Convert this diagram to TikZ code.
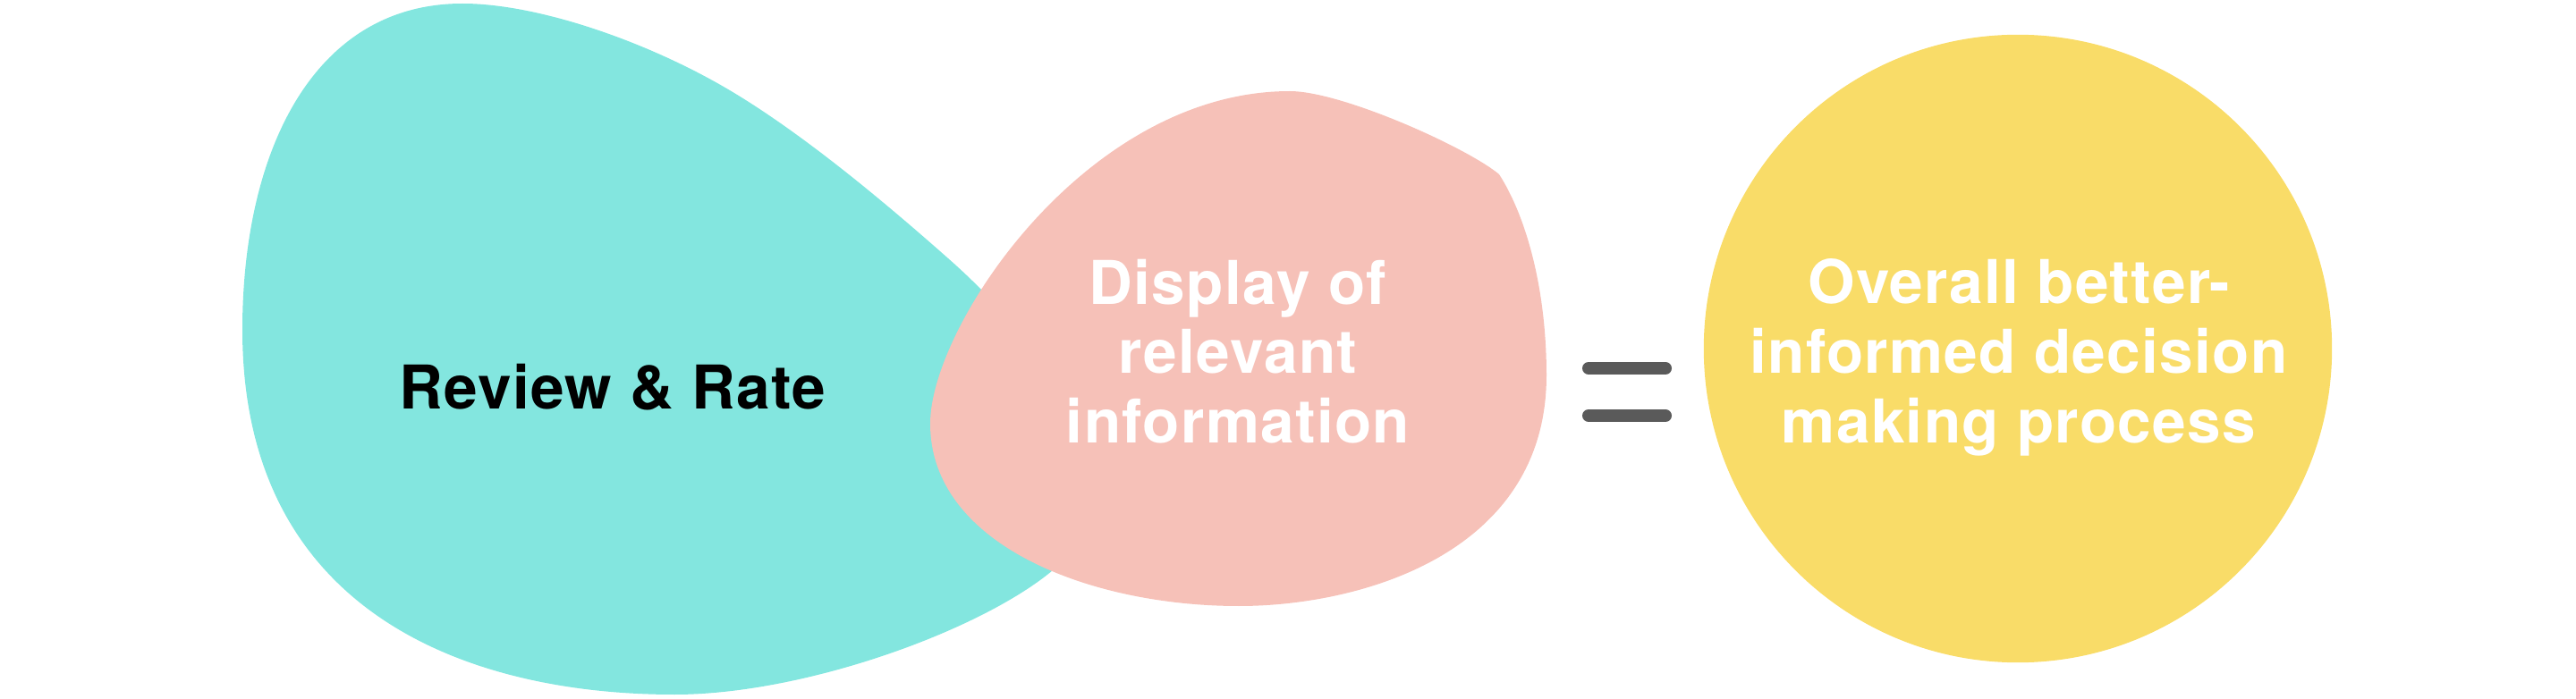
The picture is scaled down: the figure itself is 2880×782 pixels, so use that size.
\documentclass[tikz,border=0pt]{standalone}
\usepackage{fontspec}
\setmainfont{TeX Gyre Heros}[LetterSpace=2]
\definecolor{rateteal}{RGB}{131, 230, 223}
\definecolor{displaypink}{RGB}{246, 193, 184}
\definecolor{decisionyellow}{RGB}{249, 220, 104}
\definecolor{equalgray}{RGB}{90, 90, 90}
\usepackage{tikz}

\begin{document}
\begin{tikzpicture}[x=0.01cm, y=-0.01cm,
  blobtext/.style={font=\fontsize{19.2}{22.1}\selectfont\bfseries, align=center, inner sep=0pt},
  eqbar/.style={draw=equalgray, line width=0.14cm, line cap=round}]
  \useasboundingbox (0,0) rectangle (2880,782);

  % Review & Rate blob
  \fill[rateteal] (271,369) .. controls (271,170) and (350,4) .. (517,4)
    .. controls (600,4) and (719,45) .. (809,97)
    .. controls (899,149) and (1000,236) .. (1060,289)
    .. controls (1210,421) and (1257,570) .. (1177,638)
    .. controls (1097,705) and (900,777) .. (754,777)
    .. controls (530,777) and (271,690) .. cycle;
  \node[blobtext, text=black, anchor=base] (review) at (685,458) {Review \& Rate};

  % Display blob
  \fill[displaypink] (1442,102) .. controls (1500,102) and (1640,165) .. (1676,195)
    .. controls (1705,240) and (1729,320) .. (1729,420)
    .. controls (1729,620) and (1520,678) .. (1385,678)
    .. controls (1220,678) and (1040,610) .. (1040,474)
    .. controls (1040,365) and (1215,102) .. cycle;
  \node[blobtext, text=white] (display) at (1384,393) {Display of\\relevant\\information};

  % equals
  \coordinate (eqtopL) at (1776,412);
  \coordinate (eqtopR) at (1862,412);
  \coordinate (eqbotL) at (1776,465);
  \coordinate (eqbotR) at (1862,465);
  \draw[eqbar] (eqtopL) -- (eqtopR);
  \draw[eqbar] (eqbotL) -- (eqbotR);

  % Decision circle
  \fill[decisionyellow] (2256,390) circle[radius=3.51cm];
  \node[blobtext, text=white] (overall) at (2257,400) {Overall better-\\informed decision\\making process};
\end{tikzpicture}
\end{document}
